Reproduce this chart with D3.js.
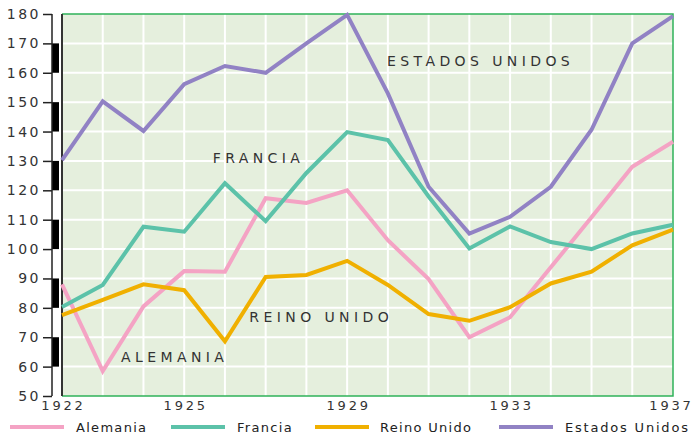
<!DOCTYPE html>
<html>
<head>
<meta charset="utf-8">
<script src="https://cdn.jsdelivr.net/npm/d3@7"></script>
<style>
  body { margin: 0; background: #fff; }
  svg { display: block; }
</style>
</head>
<body>
<div id="chart"></div>
<script>
// valores (índice, 1922 = base)
const years = d3.range(1922, 1938);
const alemania = [88, 58.5, 80.5, 92.5, 92.3, 117.3, 115.7, 120, 103, 89.8, 70, 76.8, 93.8, 110.8, 128, 136.5];
const francia = [80.3, 87.8, 107.6, 105.9, 122.4, 109.5, 125.9, 139.8, 137.1, 117.9, 100.2, 107.7, 102.4, 100, 105.3, 108.3];
const reinoUnido = [77.5, 82.7, 88, 86, 68.6, 90.5, 91.2, 96, 87.8, 77.9, 75.6, 80.2, 88.3, 92.3, 101.3, 106.6];
const estadosUnidos = [130.3, 150.3, 140.2, 156.1, 162.3, 160, 170, 179.7, 153, 121.2, 105.3, 111, 121.2, 140.6, 170, 179.3];

const xTickValues = [1922, 1925, 1929, 1933, 1937];
const yTickValues = d3.range(50, 181, 10);

const series = [
  { name: "Alemania", values: alemania, color: "#f4a3c4" },
  { name: "Francia", values: francia, color: "#5cc2a9" },
  { name: "Reino Unido", values: reinoUnido, color: "#f0b000" },
  { name: "Estados Unidos", values: estadosUnidos, color: "#9182c4" }
];

// etiquetas dentro del gráfico (en unidades de datos)
const inlineLabels = [
  { label: "ESTADOS UNIDOS", year: 1929.98, value: 164 },
  { label: "FRANCIA", year: 1925.7, value: 131 },
  { label: "REINO UNIDO", year: 1926.6, value: 77 },
  { label: "ALEMANIA", year: 1923.45, value: 63.3 }
];

const W = 693, H = 434;
const x = d3.scaleLinear().domain([1922, 1937]).range([62, 673]);
const y = d3.scaleLinear().domain([50, 180]).range([396, 14]);

const svg = d3.select("#chart").append("svg")
  .attr("width", W)
  .attr("height", H);

// fondo del área de trazado
svg.append("rect")
  .attr("x", x(1922)).attr("y", y(180))
  .attr("width", x(1937) - x(1922))
  .attr("height", y(50) - y(180))
  .attr("fill", "#e5efdd");

// rejilla
svg.append("g")
  .selectAll("line")
  .data(years.slice(1, -1))
  .join("line")
  .attr("x1", d => x(d)).attr("x2", d => x(d))
  .attr("y1", y(180)).attr("y2", y(50))
  .attr("stroke", "#fff").attr("stroke-width", 2);

svg.append("g")
  .selectAll("line")
  .data(yTickValues.slice(1, -1))
  .join("line")
  .attr("x1", x(1922)).attr("x2", x(1937))
  .attr("y1", d => y(d)).attr("y2", d => y(d))
  .attr("stroke", "#fff").attr("stroke-width", 2);

// bordes verdes
svg.append("path")
  .attr("d", `M${x(1922)},${y(180)}H${x(1937)}V${y(50)}H${x(1922)}`)
  .attr("fill", "none")
  .attr("stroke", "#2fb35a")
  .attr("stroke-width", 1.5);

// eje y con barra alterna blanco/negro
const barX = 52;
svg.append("g")
  .selectAll("rect")
  .data(yTickValues.filter(d => d < 180 && (d / 10) % 2 === 0))
  .join("rect")
  .attr("x", barX).attr("width", 7)
  .attr("y", d => y(d + 10))
  .attr("height", d => y(d) - y(d + 10))
  .attr("fill", "#000");

svg.append("line")
  .attr("x1", barX).attr("x2", barX)
  .attr("y1", y(180)).attr("y2", y(50))
  .attr("stroke", "#222").attr("stroke-width", 1.5);
svg.append("line")
  .attr("x1", x(1922)).attr("x2", x(1922))
  .attr("y1", y(180)).attr("y2", y(50))
  .attr("stroke", "#333").attr("stroke-width", 2);

const yAxis = d3.axisLeft(y).tickValues(yTickValues).tickSize(9).tickPadding(4);
const gy = svg.append("g")
  .attr("transform", `translate(${barX},0)`)
  .call(yAxis);
gy.select(".domain").remove();
gy.selectAll("line").attr("stroke", "#222").attr("stroke-width", 1.5);
gy.selectAll("text")
  .attr("fill", "#333")
  .style("font-family", "DejaVu Sans")
  .style("font-size", "14px")
  .style("letter-spacing", "2.5px")
  .attr("dx", "2px");

const xAxis = d3.axisBottom(x).tickValues(xTickValues).tickFormat(d3.format("d")).tickSize(0).tickPadding(5);
const gx = svg.append("g")
  .attr("transform", `translate(0,${y(50)})`)
  .call(xAxis);
gx.select(".domain").remove();
gx.selectAll("text")
  .attr("fill", "#333")
  .style("font-family", "DejaVu Sans")
  .style("font-size", "13px")
  .style("letter-spacing", "2.8px")
  .attr("dx", d => d === 1937 ? "-2px" : "1px");

// líneas
const line = d3.line()
  .x((d, i) => x(years[i]))
  .y(d => y(d));

svg.append("g")
  .selectAll("path")
  .data(series)
  .join("path")
  .attr("d", d => line(d.values))
  .attr("fill", "none")
  .attr("stroke", d => d.color)
  .attr("stroke-width", 4)
  .attr("stroke-linejoin", "miter");

// etiquetas dentro del gráfico
svg.append("g")
  .selectAll("text")
  .data(inlineLabels)
  .join("text")
  .attr("x", d => x(d.year))
  .attr("y", d => y(d.value))
  .attr("dy", "0.35em")
  .attr("fill", "#333")
  .style("font-family", "DejaVu Sans")
  .style("font-size", "14px")
  .style("letter-spacing", "4.4px")
  .text(d => d.label);

// leyenda
const legendX = [10, 171, 315, 499];
const legend = svg.append("g")
  .selectAll("g")
  .data(series)
  .join("g")
  .attr("transform", (d, i) => `translate(${legendX[i]},427)`);

legend.append("line")
  .attr("x1", 0).attr("x2", 54)
  .attr("stroke", d => d.color)
  .attr("stroke-width", 4);

legend.append("text")
  .attr("x", (d, i) => i === 2 ? 65 : 66)
  .attr("dy", "0.35em")
  .attr("fill", "#222")
  .style("font-family", "DejaVu Sans")
  .style("font-size", "13px")
  .style("letter-spacing", d => d.name === "Estados Unidos" ? "1.8px" : "1.3px")
  .text(d => d.name);
</script>
</body>
</html>
